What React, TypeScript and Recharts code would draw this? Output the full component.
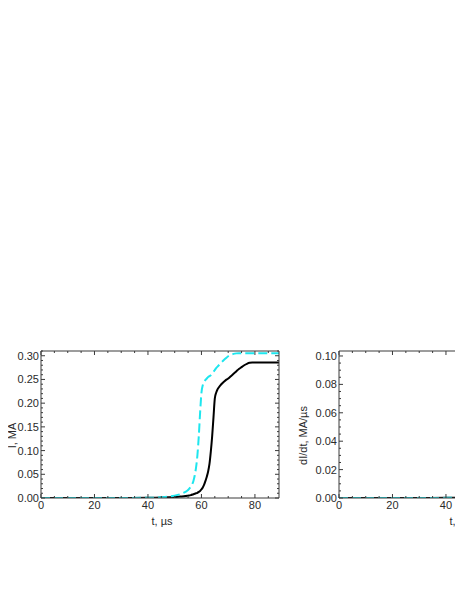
import { LineChart, Line, XAxis, YAxis } from 'recharts';

// time, µs
const t = [0, 10, 20, 30, 40, 45, 48, 50, 52, 54, 55, 56, 57, 57.5, 58, 58.5, 59, 59.5, 60, 60.5, 61, 61.5, 62, 62.5, 63, 63.5, 64, 64.5, 65, 65.5, 66, 67, 68, 69, 70, 71, 72, 73, 74, 75, 76, 77, 78, 79, 80, 85, 89];

// current, MA (solid black / dashed cyan)
const currentSolid = [0, 0, 0, 0, 0.0003, 0.0008, 0.0015, 0.002, 0.003, 0.004, 0.005, 0.006, 0.008, 0.009, 0.01, 0.011, 0.013, 0.015, 0.018, 0.022, 0.028, 0.036, 0.045, 0.056, 0.072, 0.098, 0.13, 0.17, 0.21, 0.222, 0.229, 0.237, 0.243, 0.248, 0.252, 0.257, 0.262, 0.267, 0.272, 0.276, 0.28, 0.283, 0.285, 0.2855, 0.2855, 0.2855, 0.2855];
const currentDashed = [0, 0, 0, 0, 0.0005, 0.0015, 0.003, 0.005, 0.008, 0.013, 0.017, 0.024, 0.036, 0.048, 0.065, 0.091, 0.13, 0.18, 0.222, 0.238, 0.244, 0.249, 0.252, 0.255, 0.257, 0.259, 0.262, 0.266, 0.27, 0.274, 0.277, 0.283, 0.289, 0.294, 0.299, 0.302, 0.304, 0.305, 0.3055, 0.3055, 0.3055, 0.3055, 0.3055, 0.3055, 0.3055, 0.3055, 0.3055];

// dI/dt, MA/µs
const rateSolid = [0, 0, 0, 0, 0.0001, 0.0002, 0.0003, 0.0004, 0.0005, 0.0005, 0.0007, 0.0012, 0.0015, 0.0025, 0.003, 0.004, 0.004, 0.005, 0.007, 0.01, 0.014, 0.017, 0.02, 0.026, 0.04, 0.058, 0.072, 0.076, 0.055, 0.022, 0.01, 0.007, 0.0055, 0.005, 0.0045, 0.005, 0.005, 0.005, 0.0048, 0.0042, 0.0035, 0.0025, 0.0012, 0.0003, 0, 0, 0];
const rateDashed = [0, 0, 0, 0, 0.0001, 0.0003, 0.0007, 0.001, 0.002, 0.003, 0.005, 0.009, 0.017, 0.028, 0.044, 0.066, 0.088, 0.095, 0.07, 0.03, 0.011, 0.007, 0.006, 0.005, 0.005, 0.005, 0.006, 0.007, 0.008, 0.007, 0.006, 0.006, 0.0055, 0.005, 0.004, 0.003, 0.002, 0.0012, 0.0005, 0.0001, 0, 0, 0, 0, 0, 0, 0];

const xMajor = [0, 20, 40, 60, 80];
const xTicks = [0, 5, 10, 15, 20, 25, 30, 35, 40, 45, 50, 55, 60, 65, 70, 75, 80, 85];
const currentMajor = [0, 0.05, 0.1, 0.15, 0.2, 0.25, 0.3];
const rateMajor = [0, 0.02, 0.04, 0.06, 0.08, 0.1];
const currentTicks = Array.from({ length: 32 }, (_, i) => +(i * 0.01).toFixed(3));
const rateTicks = Array.from({ length: 21 }, (_, i) => +(i * 0.005).toFixed(3));

const data = t.map((v, i) => ({
  t: v,
  i1: currentSolid[i],
  i2: currentDashed[i],
  d1: rateSolid[i],
  d2: rateDashed[i],
}));

const FONT = '"Liberation Sans", Arial, sans-serif';
const FRAME = '#3a3a3a';
const TEXT = '#2a2a2a';

const isIn = (v: number, list: number[]) => list.some(m => Math.abs(m - v) < 1e-6);

const bottomTick = (props: any) => {
  const { x, y, payload } = props;
  const major = isIn(payload.value, xMajor);
  return (
    <g>
      <line x1={x} y1={y} x2={x} y2={y - (major ? 4 : 2)} stroke={FRAME} />
      {major && (
        <text x={x} y={y + 11} textAnchor="middle" fontSize={11} fontFamily={FONT} fill={TEXT}>
          {payload.value}
        </text>
      )}
    </g>
  );
};

const topTick = (props: any) => {
  const { x, y, payload } = props;
  const major = isIn(payload.value, xMajor);
  return <line x1={x} y1={y} x2={x} y2={y + (major ? 4 : 2)} stroke={FRAME} />;
};

const leftTick = (majors: number[]) => (props: any) => {
  const { x, y, payload } = props;
  const major = isIn(payload.value, majors);
  return (
    <g>
      <line x1={x} y1={y} x2={x + (major ? 4 : 2)} y2={y} stroke={FRAME} />
      {major && (
        <text x={x - 2} y={y + 4} textAnchor="end" fontSize={11} fontFamily={FONT} fill={TEXT}>
          {payload.value.toFixed(2)}
        </text>
      )}
    </g>
  );
};

const rightTick = (majors: number[]) => (props: any) => {
  const { x, y, payload } = props;
  const major = isIn(payload.value, majors);
  return <line x1={x} y1={y} x2={x - (major ? 4 : 2)} y2={y} stroke={FRAME} />;
};

const yTitle = (text: string, dx: number) => (props: any) => {
  const vb = props.viewBox;
  const cx = vb.x + dx;
  const cy = vb.y + vb.height / 2 + 11;
  return (
    <text x={cx} y={cy} transform={`rotate(-90 ${cx} ${cy})`} textAnchor="middle" fontSize={11} fontFamily={FONT} fill={TEXT}>
      {text}
    </text>
  );
};

const xTitle = (props: any) => {
  const vb = props.viewBox;
  return (
    <text x={vb.x + vb.width / 2 + 2} y={vb.y + 27} textAnchor="middle" fontSize={11} fontFamily={FONT} fill={TEXT}>
      t, µs
    </text>
  );
};

interface PanelProps {
  yMax: number;
  majors: number[];
  ticks: number[];
  keys: [string, string];
  title: string;
  titleDx: number;
}

function Panel({ yMax, majors, ticks, keys, title, titleDx }: PanelProps) {
  return (
    <LineChart width={298} height={198} data={data} margin={{ top: 10, right: 18, left: 0, bottom: 0 }}>
      <XAxis
        dataKey="t"
        type="number"
        domain={[0, 89]}
        ticks={xTicks}
        interval={0}
        allowDataOverflow
        tickSize={0}
        tickMargin={0}
        tickLine={false}
        tick={bottomTick}
        axisLine={{ stroke: FRAME }}
        height={40}
        label={xTitle}
      />
      <XAxis
        xAxisId="top"
        orientation="top"
        dataKey="t"
        type="number"
        domain={[0, 89]}
        ticks={xTicks}
        interval={0}
        allowDataOverflow
        tickSize={0}
        tickMargin={0}
        tickLine={false}
        tick={topTick}
        axisLine={{ stroke: FRAME }}
        height={1}
      />
      <YAxis
        type="number"
        domain={[0, yMax]}
        ticks={ticks}
        interval={0}
        allowDataOverflow
        tickSize={0}
        tickMargin={0}
        tickLine={false}
        tick={leftTick(majors)}
        axisLine={{ stroke: FRAME }}
        width={41}
        label={yTitle(title, titleDx)}
      />
      <YAxis
        yAxisId="right"
        orientation="right"
        type="number"
        domain={[0, yMax]}
        ticks={ticks}
        interval={0}
        allowDataOverflow
        tickSize={0}
        tickMargin={0}
        tickLine={false}
        tick={rightTick(majors)}
        axisLine={{ stroke: FRAME }}
        width={1}
      />
      <Line dataKey={keys[0]} type="monotone" stroke="#000000" strokeWidth={2} dot={false} isAnimationActive={false} />
      <Line dataKey={keys[1]} type="monotone" stroke="#1ee6ee" strokeWidth={2} strokeDasharray="9 4" dot={false} isAnimationActive={false} />
    </LineChart>
  );
}

export default function App() {
  return (
    <div style={{ width: 463, height: 560, marginLeft: -8, overflow: 'hidden', position: 'relative' }}>
      <div style={{ position: 'absolute', top: 332, left: 0, display: 'flex', width: 620 }}>
        <div style={{ flex: 'none' }}>
          <Panel yMax={0.31} majors={currentMajor} ticks={currentTicks} keys={['i1', 'i2']} title="I, MA" titleDx={15.5} />
        </div>
        <div style={{ flex: 'none' }}>
          <Panel yMax={0.1035} majors={rateMajor} ticks={rateTicks} keys={['d1', 'd2']} title="dI/dt, MA/µs" titleDx={9} />
        </div>
      </div>
    </div>
  );
}
